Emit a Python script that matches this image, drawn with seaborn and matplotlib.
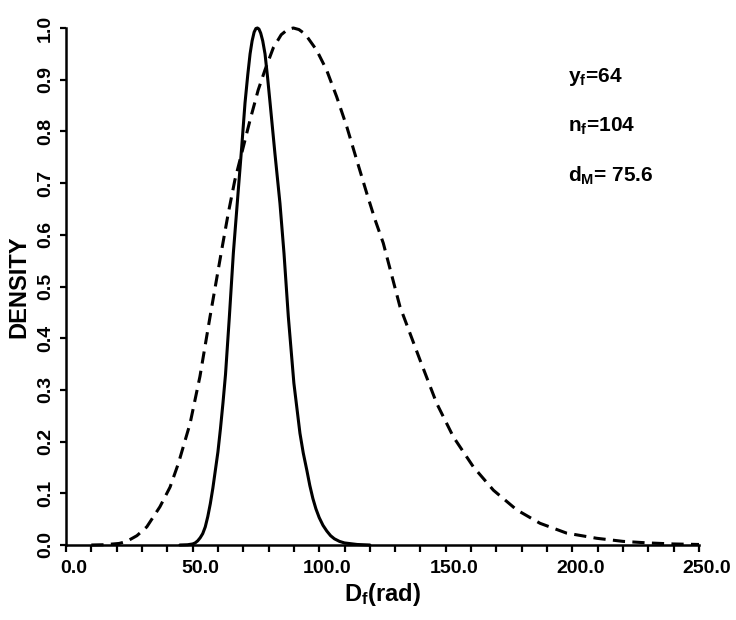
import matplotlib
matplotlib.use("Agg")
import matplotlib.pyplot as plt
import matplotlib.transforms as mtransforms
from matplotlib.ticker import FixedLocator, MultipleLocator
import seaborn as sns

# Solid curve (narrow, peak at d_M = 75.6)
post_x = [45, 48, 50, 51, 52, 53, 54, 55, 56, 57, 58, 59, 60, 61, 62, 63, 64.5,
          66.1, 68.1, 69.4, 70.7, 71.8, 72.7, 73.5, 74.3, 75.0, 75.6, 76.2, 76.9,
          77.7, 78.6, 79.6, 80.6, 82.5, 84.5, 86.1, 87.8, 90.0, 92.4, 93.7, 95.1,
          96.3, 97.5, 98.7, 100, 101.5, 103, 104.5, 106, 108, 110, 115, 120]
post_y = [0.0, 0.0005, 0.002, 0.004, 0.008, 0.014, 0.022, 0.035, 0.055, 0.08,
          0.11, 0.145, 0.18, 0.225, 0.275, 0.33, 0.44, 0.565, 0.69, 0.77, 0.855,
          0.91, 0.95, 0.975, 0.992, 0.999, 1.0, 0.998, 0.99, 0.975, 0.95, 0.905,
          0.855, 0.758, 0.661, 0.564, 0.442, 0.313, 0.216, 0.178, 0.145, 0.115,
          0.09, 0.07, 0.053, 0.038, 0.027, 0.018, 0.012, 0.007, 0.004, 0.001, 0.0]

# Dashed curve (wide, peak near 90)
prior_x = [10, 15, 21, 24, 28, 31.9, 37.1, 41.1, 44.4, 49.0, 52.9, 56.9, 61.5,
           64.1, 66.7, 69.4, 72.7, 75.9, 78.6, 81.9, 85.0, 87.5, 89.8, 92.0, 94.5,
           99.0, 102.9, 106.9, 110.9, 114.8, 118.8, 122.0, 125.3, 131.9, 139.8,
           146.4, 153.0, 160.9, 168.8, 178.0, 187.2, 197.7, 209.6, 220, 230, 240, 250]
prior_y = [0.0, 0.0005, 0.003, 0.007, 0.018, 0.035, 0.074, 0.112, 0.158, 0.235,
           0.326, 0.442, 0.571, 0.642, 0.706, 0.758, 0.822, 0.880, 0.919, 0.962,
           0.987, 0.997, 1.0, 0.997, 0.988, 0.957, 0.919, 0.867, 0.809, 0.745,
           0.68, 0.63, 0.584, 0.461, 0.358, 0.274, 0.209, 0.151, 0.106, 0.068,
           0.042, 0.023, 0.013, 0.007, 0.004, 0.002, 0.001]

x_ticks = [0, 50, 100, 150, 200, 250]
x_tick_labels = ["0.0", "50.0", "100.0", "150.0", "200.0", "250.0"]
y_ticks = [0.0, 0.1, 0.2, 0.3, 0.4, 0.5, 0.6, 0.7, 0.8, 0.9, 1.0]
y_tick_labels = ["0.0", "0.1", "0.2", "0.3", "0.4", "0.5", "0.6", "0.7", "0.8", "0.9", "1.0"]

notes = [r"y$_f$=64", r"n$_f$=104", r"d$_M$= 75.6"]
note_y = [0.896, 0.799, 0.702]

sns.set_style("ticks")
plt.rcParams['font.family'] = ['Liberation Sans', 'DejaVu Sans']
plt.rcParams['font.weight'] = 'bold'
plt.rcParams['mathtext.fontset'] = 'custom'
plt.rcParams['mathtext.rm'] = 'Liberation Sans:bold'
plt.rcParams['mathtext.it'] = 'Liberation Sans:bold'
plt.rcParams['mathtext.bf'] = 'Liberation Sans:bold'
for k in ['text.color', 'axes.labelcolor', 'xtick.color', 'ytick.color', 'axes.edgecolor']:
    plt.rcParams[k] = 'black'

fig = plt.figure(figsize=(7.36, 6.2), dpi=100)
ax = fig.add_axes([66 / 736, 75 / 620, 633 / 736, 517 / 620])

sns.lineplot(x=post_x, y=post_y, ax=ax, color="black", lw=2.2,
             sort=False, estimator=None, clip_on=False)
sns.lineplot(x=prior_x, y=prior_y, ax=ax, color="black", lw=2.2,
             sort=False, estimator=None, clip_on=False, linestyle=(0, (4, 2.4)))

ax.set_xlim(0, 250)
ax.set_ylim(0, 1.0)
sns.despine(ax=ax)
for s in ["left", "bottom"]:
    ax.spines[s].set_linewidth(1.8)

ax.xaxis.set_major_locator(FixedLocator(x_ticks))
ax.set_xticklabels(x_tick_labels, fontsize=14, fontweight="bold")
ax.xaxis.set_minor_locator(MultipleLocator(10))
ax.set_yticks(y_ticks)
ax.set_yticklabels(y_tick_labels, fontsize=14, fontweight="bold",
                   rotation=90, va="center")
ax.tick_params(axis="x", which="both", direction="out", length=5, width=1.6, pad=6)
ax.tick_params(axis="y", direction="out", length=4.5, width=1.6, pad=4)

# the labels sit a bit right of their ticks in the original
shift = mtransforms.ScaledTranslation(8 / 100, 0, fig.dpi_scale_trans)
for lab in ax.get_xticklabels():
    lab.set_transform(lab.get_transform() + shift)

ax.set_xlabel(r"D$_f$(rad)", fontsize=17, fontweight="bold", labelpad=3)
ax.set_ylabel("DENSITY", fontsize=17, fontweight="bold", labelpad=5)

for txt, yy in zip(notes, note_y):
    ax.text(198.3, yy, txt, fontsize=15, fontweight="bold", va="baseline")

fig.savefig("out.png", dpi=100)
